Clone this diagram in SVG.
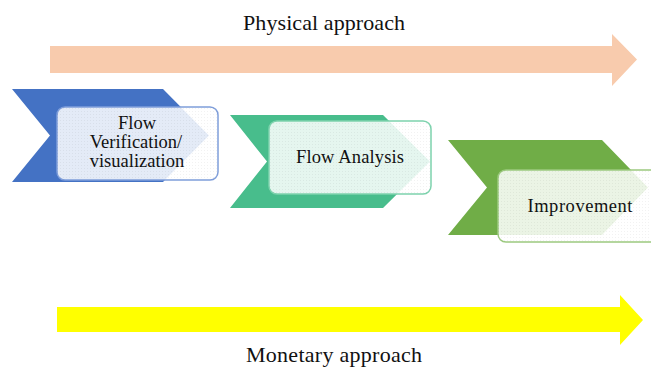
<svg xmlns="http://www.w3.org/2000/svg" width="651" height="369" viewBox="0 0 651 369">
<defs>
<style>
.t{font-family:"Liberation Serif","Times New Roman",serif;fill:#111;}
.box{fill:#ffffff;fill-opacity:0.86;stroke-width:1.5;}
</style>
<pattern id="dots" width="3" height="3" patternUnits="userSpaceOnUse">
<rect x="0" y="0" width="1" height="1" fill="#000" fill-opacity="0.05"/>
</pattern>
</defs>
<g id="physical">
<polygon points="50,46 612,46 612,34 637,59.5 612,86 612,73 50,73" fill="#F8CBAD"/>
<text class="t" x="324" y="30" font-size="22" text-anchor="middle" textLength="162" lengthAdjust="spacing">Physical approach</text>
</g>
<g id="monetary">
<polygon points="57,307 620,307 620,295 643,320 620,345 620,332 57,332" fill="#FFFF00"/>
<text class="t" x="334" y="362" font-size="22" text-anchor="middle" textLength="176" lengthAdjust="spacing">Monetary approach</text>
</g>
<g id="step1">
<polygon points="12,89 163,89 209,135.5 163,182 12,182 50,135.5" fill="#4472C4"/>
<rect class="box" x="57" y="107" width="161" height="73" rx="8" stroke="#7F9EDA"/>
<rect x="57" y="107" width="161" height="73" rx="8" fill="url(#dots)"/>
<text class="t" font-size="18.5" text-anchor="middle"><tspan x="137" y="129">Flow</tspan><tspan x="136" y="148">Verification/</tspan><tspan x="137" y="167">visualization</tspan></text>
</g>
<g id="step2">
<polygon points="230,115 383,115 430,161.5 383,208 230,208 267,161.5" fill="#48BD8C"/>
<rect class="box" x="269" y="121" width="162" height="73" rx="8" stroke="#7DD2AD"/>
<rect x="269" y="121" width="162" height="73" rx="8" fill="url(#dots)"/>
<text class="t" x="350" y="163" font-size="18.5" text-anchor="middle" textLength="108" lengthAdjust="spacing">Flow Analysis</text>
</g>
<g id="step3">
<polygon points="448,140 602,140 648,187.5 602,235 448,235 487,187.5" fill="#70AD47"/>
<rect class="box" x="498" y="170" width="170" height="72" rx="8" stroke="#9CC97F"/>
<rect x="498" y="170" width="170" height="72" rx="8" fill="url(#dots)"/>
<text class="t" x="580" y="212" font-size="18.5" text-anchor="middle" textLength="105" lengthAdjust="spacing">Improvement</text>
</g>
<g id="connectors"/>
</svg>
